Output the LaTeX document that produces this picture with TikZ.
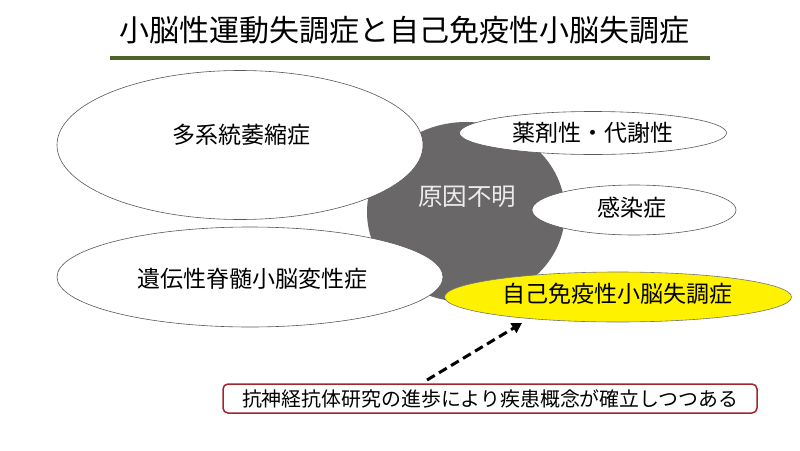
\documentclass[tikz,border=0pt]{standalone}
\usepackage{fontspec}
\newfontfamily\jp{Noto Sans CJK JP}
\usetikzlibrary{shapes.geometric,arrows.meta}
\definecolor{olive}{HTML}{4F6228}
\definecolor{unkgray}{HTML}{696767}
\definecolor{boxred}{HTML}{A5262A}
\begin{document}
\begin{tikzpicture}[x=1pt,y=-1pt,
  oval/.style={ellipse,draw=black!65,line width=0.6pt,fill=white,inner sep=0pt,
    font=\jp\fontsize{23}{27}\selectfont},
  ovaltext/.style={inner sep=0pt,font=\jp\fontsize{23}{27}\selectfont},
  yellowoval/.style={oval,fill=yellow,draw=black!55},
  titletext/.style={font=\jp\fontsize{30}{34}\selectfont,inner sep=0pt},
  rule/.style={draw=olive,line width=4pt},
  notebox/.style={draw=boxred,line width=1.5pt,rounded corners=5pt,fill=white,
    minimum width=534pt,minimum height=29pt,inner sep=0pt,
    font=\jp\fontsize{19.9}{23}\selectfont},
  dasharrow/.style={line width=3pt,dash pattern=on 9pt off 5pt,-{Triangle[length=10pt,width=11pt]}}
]
\useasboundingbox (0,0) rectangle (800,450);
\fill[white] (0,0) rectangle (800,450);
\node[titletext] (title) at (404,30) {小脳性運動失調症と自己免疫性小脳失調症};
\coordinate (ruleL) at (110,58);
\coordinate (ruleR) at (710,58);
\draw[rule] (ruleL) -- (ruleR);
\node[ellipse,fill=unkgray,minimum width=198pt,minimum height=180pt,inner sep=0pt] (unk) at (466,212) {};
\node[font=\jp\fontsize{24.5}{28}\selectfont,text=white!92!black,inner sep=0pt] (unklabel) at (467,197) {原因不明};
\node[oval,minimum width=366pt,minimum height=149pt] (msa) at (240,145) {};
\node[ovaltext] (msatext) at (241,135) {多系統萎縮症};
\node[oval,minimum width=386pt,minimum height=100pt] (scd) at (250,277) {};
\node[ovaltext] (scdtext) at (252,279) {遺伝性脊髄小脳変性症};
\node[oval,minimum width=267pt,minimum height=43pt] (drug) at (593,133) {薬剤性・代謝性};
\node[oval,minimum width=204pt,minimum height=50pt] (inf) at (634,210) {};
\node[ovaltext] (inftext) at (632,208) {感染症};
\node[yellowoval,minimum width=347pt,minimum height=50pt] (auto) at (618,297) {};
\node[ovaltext] (autotext) at (617,294) {自己免疫性小脳失調症};
\node[notebox] (note) at (490,398.5) {抗神経抗体研究の進歩により疾患概念が確立しつつある};
\coordinate (tail) at (427,380);
\coordinate (head) at (522,323);
\draw[dasharrow] (tail) -- (head);
\end{tikzpicture}
\end{document}
